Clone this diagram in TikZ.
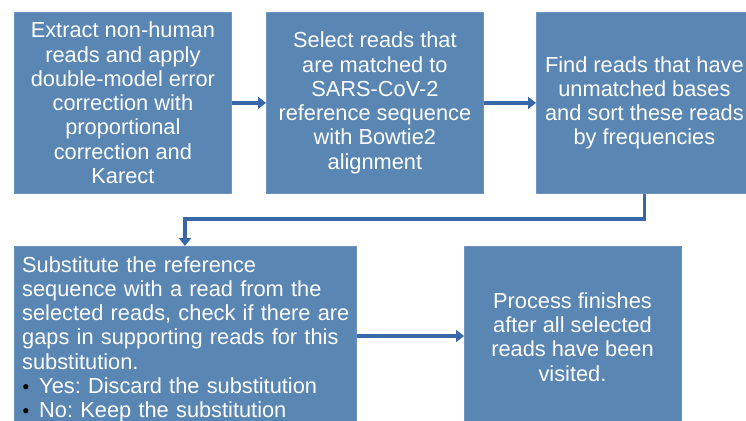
\documentclass[tikz,border=0pt]{standalone}
\usepackage{fontspec}
\setmainfont{Liberation Sans}
\usetikzlibrary{arrows.meta}
\definecolor{boxfill}{HTML}{5A86B4}
\definecolor{boxline}{HTML}{6E95C1}
\definecolor{arrcol}{HTML}{3868A8}
\newcommand{\mybul}{\makebox[17pt][l]{\hspace{0.5pt}\raisebox{0.5pt}{\fontsize{19}{19}\selectfont\color{black}\textbullet}}}
\frenchspacing
\begin{document}
\begin{tikzpicture}[x=1pt,y=-1pt,
  box/.style={draw=boxline, line width=0.8pt, fill=boxfill, text=white,
    font=\fontsize{21.8}{24.3}\selectfont, inner sep=0pt, align=center,
    minimum height=181pt, anchor=north west},
  txt/.style={text=white, font=\fontsize{21.8}{24.3}\selectfont, inner sep=0pt},
  arr/.style={draw=arrcol, line width=3.6pt, line join=miter,
    -{Triangle[length=8pt,width=12pt]}}]
\useasboundingbox (0,0) rectangle (746,420);
\clip (0,0) rectangle (746,420);
\node[box, minimum width=217pt] (b1) at (14,12)
  {Extract non-human\\reads and apply\\double-model error\\correction with\\proportional\\correction and\\Karect};
\node[box, minimum width=217pt] (b2) at (266,12)
  {Select reads that\\are matched to\\SARS-CoV-2\\reference sequence\\with Bowtie2\\alignment};
\node[box, minimum width=216pt] (b3) at (536,12)
  {Find reads that have\\unmatched bases\\and sort these reads\\by frequencies};
\node[box, minimum width=342pt, minimum height=200pt] (b4) at (14,246) {};
\node[txt, anchor=north west, text width=340pt, align=left] (t4) at (22,256)
  {Substitute the reference\\sequence with a read from the\\selected reads, check if there are\\gaps in supporting reads for this\\substitution.\\\mybul Yes: Discard the substitution\\\mybul No: Keep the substitution};
\node[box, minimum width=217pt, minimum height=200pt] (b5) at (464,246) {};
\node[txt, align=center] (t5) at (572.5,337)
  {Process finishes\\after all selected\\reads have been\\visited.};
\coordinate (k) at (185,219);
\coordinate (m) at (0,336);
\draw[arr] (b1.east) -- (b2.west);
\draw[arr] (b2.east) -- (b3.west);
\draw[arr] (b3.south) |- (k) -- (k |- b4.north);
\draw[arr] (b4.east |- m) -- (b5.west |- m);
\end{tikzpicture}
\end{document}
